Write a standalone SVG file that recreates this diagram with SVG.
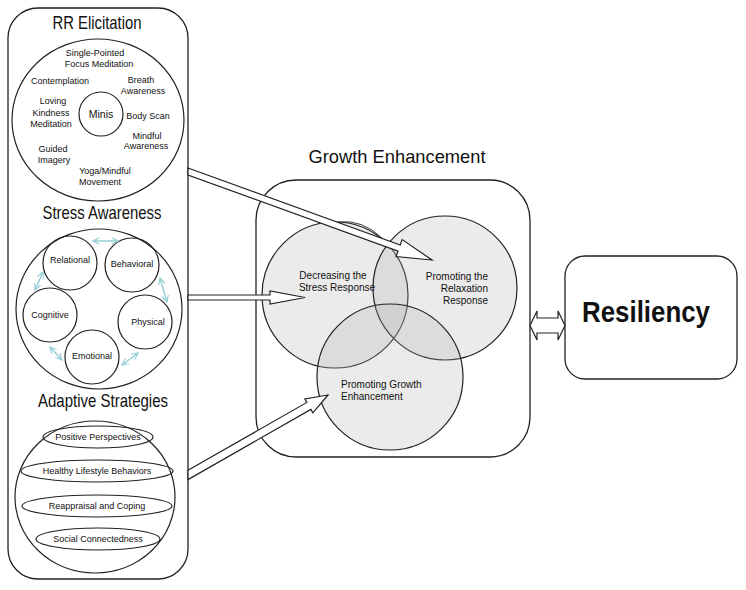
<svg xmlns="http://www.w3.org/2000/svg" width="746" height="590" viewBox="0 0 746 590">
<defs>
<style>
text{font-family:"Liberation Sans",Arial,sans-serif;fill:#111}
.s{font-size:9px;text-anchor:middle}
.t{font-size:19px;text-anchor:middle}
.m{font-size:10px}
.ln{fill:none;stroke:#222;stroke-width:1.2}
.frame{fill:#fff;stroke:#222;stroke-width:1.3}
.ven{fill:#b0b0b0;fill-opacity:0.25;stroke:#222;stroke-width:1.2}
.blk{fill:#fff;stroke:#222;stroke-width:1.2;stroke-linejoin:miter}
.tl{stroke:#96cfd5;stroke-width:1.5;fill:none;marker-start:url(#v);marker-end:url(#v)}
</style>
<marker id="v" viewBox="0 0 10 10" refX="9" refY="5" markerWidth="8" markerHeight="8" orient="auto-start-reverse" markerUnits="userSpaceOnUse">
<path d="M1,1 L9,5 L1,9" fill="none" stroke="#96cfd5" stroke-width="1.5"/>
</marker>
</defs>
<rect width="746" height="590" fill="#fff"/>

<g id="left-panel">
<rect class="frame" x="8" y="8" width="180" height="571" rx="30"/>
</g>

<g id="rr-elicitation">
<text class="t" x="97" y="29" textLength="89" lengthAdjust="spacingAndGlyphs">RR Elicitation</text>
<ellipse class="ln" cx="98" cy="120" rx="86" ry="81"/>
<circle class="ln" cx="101" cy="114" r="22"/>
<text class="s" x="101" y="118" style="font-size:10.5px">Minis</text>
<text class="s" x="95" y="56">Single-Pointed</text>
<text class="s" x="99" y="67">Focus Meditation</text>
<text class="s" x="60" y="84">Contemplation</text>
<text class="s" x="141" y="83">Breath</text>
<text class="s" x="143" y="94">Awareness</text>
<text class="s" x="53" y="104">Loving</text>
<text class="s" x="51" y="116">Kindness</text>
<text class="s" x="51" y="127">Meditation</text>
<text class="s" x="148" y="119">Body Scan</text>
<text class="s" x="147" y="139">Mindful</text>
<text class="s" x="146" y="149">Awareness</text>
<text class="s" x="53" y="152">Guided</text>
<text class="s" x="54" y="163">Imagery</text>
<text class="s" x="105" y="174">Yoga/Mindful</text>
<text class="s" x="100" y="185">Movement</text>
</g>

<g id="stress-awareness">
<text class="t" x="102" y="219" textLength="119" lengthAdjust="spacingAndGlyphs">Stress Awareness</text>
<ellipse class="ln" cx="99" cy="309" rx="83" ry="80"/>
<g id="relational"><circle class="ln" cx="70" cy="263" r="27"/><text class="s" x="70" y="263">Relational</text></g>
<g id="behavioral"><circle class="ln" cx="132" cy="265" r="27"/><text class="s" x="132" y="267">Behavioral</text></g>
<g id="physical"><circle class="ln" cx="145" cy="322" r="27"/><text class="s" x="148" y="325">Physical</text></g>
<g id="emotional"><circle class="ln" cx="92" cy="357" r="27"/><text class="s" x="92" y="359">Emotional</text></g>
<g id="cognitive"><circle class="ln" cx="50" cy="315" r="27"/><text class="s" x="50" y="318">Cognitive</text></g>
</g>

<g id="adaptive-strategies">
<text class="t" x="103" y="407" textLength="130" lengthAdjust="spacingAndGlyphs">Adaptive Strategies</text>
<ellipse class="ln" cx="95" cy="497" rx="80" ry="76"/>
<ellipse class="ln" cx="98" cy="437" rx="55" ry="11"/>
<text class="s" x="98" y="440">Positive Perspectives</text>
<ellipse class="ln" cx="97" cy="471" rx="76" ry="11"/>
<text class="s" x="97" y="474">Healthy Lifestyle Behaviors</text>
<ellipse class="ln" cx="97" cy="506" rx="75" ry="11"/>
<text class="s" x="97" y="509">Reappraisal and Coping</text>
<ellipse class="ln" cx="98" cy="539" rx="62" ry="11"/>
<text class="s" x="98" y="542">Social Connectedness</text>
</g>

<g id="growth-enhancement">
<text class="t" x="397" y="163" textLength="177" lengthAdjust="spacingAndGlyphs">Growth Enhancement</text>
<rect class="frame" x="256" y="180" width="274" height="277" rx="40"/>
<path d="M338,222 Q362,219 382,238" fill="none" stroke="#222" stroke-width="0.9"/>
<circle class="ven" cx="335" cy="295" r="73"/>
<circle class="ven" cx="445" cy="288" r="72"/>
<circle class="ven" cx="390" cy="377" r="73"/>
<text class="m" x="333" y="279" text-anchor="middle">Decreasing the</text>
<text class="m" x="337" y="291" text-anchor="middle">Stress Response</text>
<text class="m" x="488" y="280" text-anchor="end">Promoting the</text>
<text class="m" x="488" y="292" text-anchor="end">Relaxation</text>
<text class="m" x="488" y="304" text-anchor="end">Response</text>
<text class="m" x="341" y="388">Promoting Growth</text>
<text class="m" x="341" y="400">Enhancement</text>
</g>

<g id="resiliency">
<rect class="frame" x="565" y="256" width="172" height="123" rx="20"/>
<text x="646" y="322" text-anchor="middle" style="font-size:29px;font-weight:bold" textLength="128" lengthAdjust="spacingAndGlyphs">Resiliency</text>
</g>

<g id="connectors">
<line class="tl" x1="93" y1="241" x2="118" y2="241"/>
<line class="tl" x1="160" y1="278" x2="167" y2="302"/>
<line class="tl" x1="138" y1="353" x2="122" y2="365"/>
<line class="tl" x1="50" y1="347" x2="62" y2="360"/>
<line class="tl" x1="35" y1="290" x2="43" y2="272"/>
<polygon class="blk" points="188,168 400.2,245 402.2,239.6 432,260 396,256.6 398,251.2 188,175"/>
<polygon class="blk" points="188,295 270,295 270,291 305,297.5 270,304 270,300 188,300"/>
<polygon class="blk" points="188,470.3 306.9,402.4 304.9,399 328,395 312.9,412.8 310.9,409.4 188,479.6"/>
<polygon class="blk" points="530,325.5 537,311 537,318 558,318 558,311 565,325.5 558,340 558,333 537,333 537,340"/>
</g>
</svg>
